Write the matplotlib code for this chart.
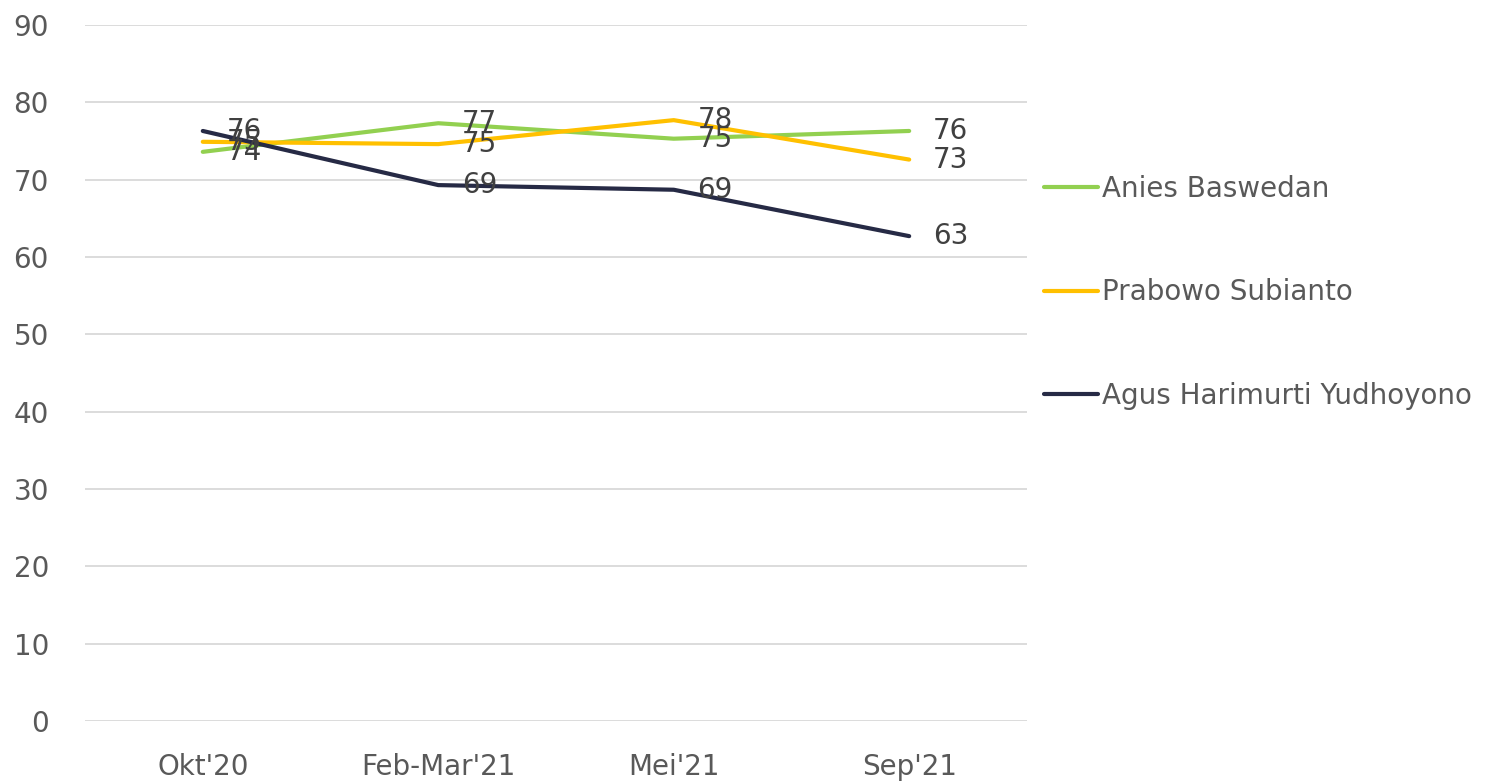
import matplotlib
matplotlib.use("Agg")
import matplotlib.pyplot as plt

periods = ["Okt'20", "Feb-Mar'21", "Mei'21", "Sep'21"]
anies = [73.6, 77.3, 75.3, 76.3]
prabowo = [74.9, 74.6, 77.7, 72.6]
ahy = [76.3, 69.3, 68.7, 62.7]
series_names = ["Anies Baswedan", "Prabowo Subianto", "Agus Harimurti Yudhoyono"]
colors = ["#92d050", "#ffc000", "#262a45"]

plt.rcParams['font.family'] = ['DejaVu Sans']
text_col = "#595959"

fig = plt.figure(figsize=(14.95, 7.82), dpi=100)
ax = fig.add_axes([0.0569, 0.078, 0.63, 0.89])

x = list(range(len(periods)))
for vals, name, c in zip([anies, prabowo, ahy], series_names, colors):
    ax.plot(x, vals, color=c, lw=3, label=name, solid_capstyle='round', zorder=3)
    for xi, v in zip(x, vals):
        ax.annotate("%d" % round(v), (xi, v), xytext=(17, 0), textcoords='offset points',
                    ha='left', va='center', fontsize=20, color="#404040", zorder=4)

ax.set_xlim(-0.5, 3.5)
ax.set_ylim(0, 90)
ax.set_yticks(range(0, 91, 10))
ax.set_xticks(x)
ax.set_xticklabels(periods)
ax.grid(axis='y', color='#d9d9d9', lw=1.3)
ax.set_axisbelow(True)
for s in ax.spines.values():
    s.set_visible(False)
ax.tick_params(length=0, labelsize=20, labelcolor=text_col)
ax.tick_params(axis='y', pad=26)
ax.tick_params(axis='x', pad=23)

leg = ax.legend(loc='center left', bbox_to_anchor=(1.006, 0.616), frameon=False,
                fontsize=20, labelspacing=2.71, handlelength=1.95, handletextpad=0.15,
                borderaxespad=0)
for t in leg.get_texts():
    t.set_color(text_col)

fig.savefig("out.png", dpi=100)
